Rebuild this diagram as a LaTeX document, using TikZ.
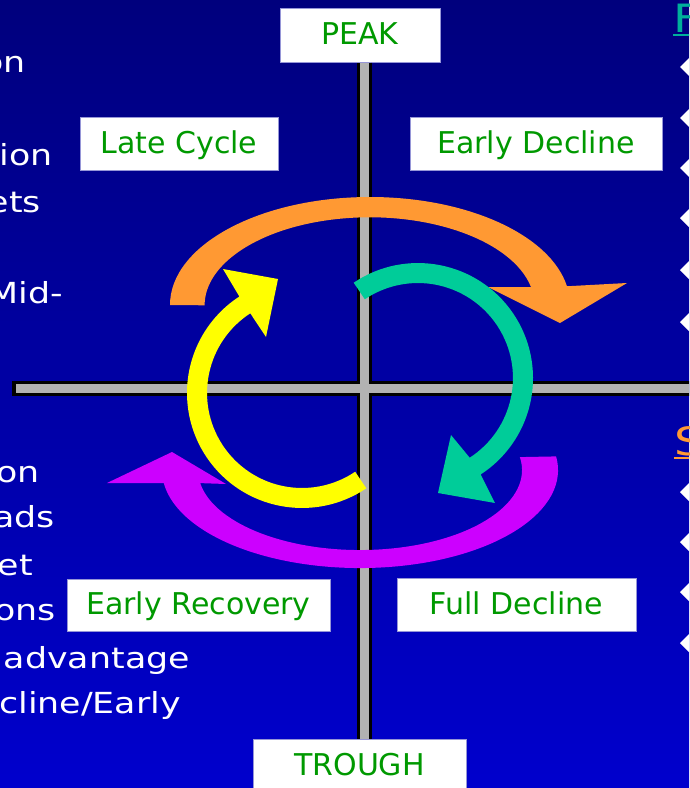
\documentclass[tikz,border=0pt]{standalone}
\usepackage{fontspec}
\setmainfont{DejaVu Sans}
\newfontfamily\sidefont[FakeStretch=1.2]{DejaVu Sans}

\definecolor{navytop}{RGB}{0,0,125}
\definecolor{navybot}{RGB}{0,0,205}
\definecolor{axisgray}{RGB}{178,178,178}
\definecolor{phasegreen}{RGB}{0,153,0}
\definecolor{boxedge}{RGB}{150,150,215}
\definecolor{arrorange}{RGB}{255,153,51}
\definecolor{arrteal}{RGB}{0,204,153}
\definecolor{arryellow}{RGB}{255,255,0}
\definecolor{arrmagenta}{RGB}{204,0,255}
\definecolor{headteal}{RGB}{0,175,155}

\tikzset{
  phase/.style={draw=boxedge, line width=1pt, fill=white, text=phasegreen,
    font=\fontsize{30}{36}\selectfont, inner sep=0pt, text height=22pt, text depth=3pt},
  sidetext/.style={text=white, font=\sidefont\fontsize{29}{35}\selectfont,
    anchor=base east, inner sep=0pt},
  headtext/.style={font=\sidefont\fontsize{39}{45}\selectfont, anchor=base west, inner sep=0pt},
  axisedge/.style={line width=15pt, black},
  axisfill/.style={line width=9pt, axisgray},
  bullet/.style={fill=white},
}

\begin{document}
\begin{tikzpicture}[x=1pt,y=-1pt]
    \useasboundingbox (0,0) rectangle (689,788);
    \clip (0,0) rectangle (689,788);
    \shade[top color=navytop, bottom color=navybot] (0,0) rectangle (689,788);

    \node[sidetext] (l1) at (26,72) {on};
    \node[sidetext] (l2) at (53,165) {ion};
    \node[sidetext] (l3) at (41,212) {ets};
    \node[sidetext] (l4) at (63,303) {Mid-};
    \node[sidetext] (l5) at (40,482) {on};
    \node[sidetext] (l6) at (55,527) {ads};
    \node[sidetext] (l7) at (33,575) {et};
    \node[sidetext] (l8) at (56,620) {ons};
    \node[sidetext] (l9) at (190,668) {advantage};
    \node[sidetext] (l10) at (181,713) {cline/Early};

    \node[headtext, text=headteal] (fhead) at (673,32) {F};
    \draw[headteal, line width=2pt] ([yshift=-2.5pt]fhead.base west) -- ([yshift=-2.5pt]fhead.base east);
    \node[headtext, text=arrorange] (shead) at (674,455) {S};
    \draw[arrorange, line width=2pt] ([yshift=-3pt]shead.base west) -- ([yshift=-3pt]shead.base east);

    \fill[bullet] (680,67) -- (690,57) -- (700,67) -- (690,77) -- cycle;
    \fill[bullet] (680,118) -- (690,108) -- (700,118) -- (690,128) -- cycle;
    \fill[bullet] (680,168) -- (690,158) -- (700,168) -- (690,178) -- cycle;
    \fill[bullet] (680,218) -- (690,208) -- (700,218) -- (690,228) -- cycle;
    \fill[bullet] (680,270) -- (690,260) -- (700,270) -- (690,280) -- cycle;
    \fill[bullet] (680,322) -- (690,312) -- (700,322) -- (690,332) -- cycle;
    \fill[bullet] (680,492) -- (690,482) -- (700,492) -- (690,502) -- cycle;
    \fill[bullet] (680,542) -- (690,532) -- (700,542) -- (690,552) -- cycle;
    \fill[bullet] (680,592) -- (690,582) -- (700,592) -- (690,602) -- cycle;
    \fill[bullet] (680,643) -- (690,633) -- (700,643) -- (690,653) -- cycle;

    \node[phase, minimum width=160pt, minimum height=54pt] (peak) at (360,35) {PEAK};
    \node[phase, minimum width=198pt, minimum height=53pt] (late) at (179,143.5) {Late Cycle};
    \node[phase, minimum width=252pt, minimum height=53pt] (earlydec) at (536,143.5) {Early Decline};
    \node[phase, minimum width=263pt, minimum height=52pt] (earlyrec) at (198.5,605) {Early Recovery};
    \node[phase, minimum width=239pt, minimum height=53pt] (fulldec) at (516.5,604.5) {Full Decline};
    \node[phase, minimum width=213pt, minimum height=53pt] (trough) at (359.5,765.5) {TROUGH};

    \coordinate (hleft) at (12,388);
    \coordinate (hright) at (700,388);
    \coordinate (vmid) at (364,388);
    \draw[axisedge] (hleft) -- (hright);
    \draw[axisedge] (peak.south -| vmid) -- (trough.north -| vmid);
    \draw[axisfill] ([xshift=4pt]hleft) -- (hright);
    \draw[axisfill] (peak.south -| vmid) -- (trough.north -| vmid);

    \fill[arrorange] (170,305) arc[start angle=180, end angle=350, x radius=200, y radius=108]
        -- (627,283) -- (560,323) -- (488,287) -- (531,287)
        arc[start angle=348, end angle=180, x radius=165, y radius=88] -- cycle;
    \fill[arrteal] (353.7,282.7) arc[start angle=236, end angle=417, radius=115]
        -- (495,503) -- (438,493) -- (451,435) -- (469.7,457.7)
        arc[start angle=417, end angle=236, radius=95] -- cycle;
    \fill[arrmagenta] (556.1,456.4) arc[start angle=-8, end angle=172.4, x radius=198, y radius=98]
        -- (107,483) -- (172,452) -- (226,484) -- (200.2,483.1)
        arc[start angle=170.6, end angle=-9.3, x radius=162, y radius=80] -- cycle;
    \fill[arryellow] (366.3,488.3) arc[start angle=56, end angle=237, radius=115]
        -- (223,269) -- (278,279) -- (266,337) -- (250.3,313.3)
        arc[start angle=237, end angle=56, radius=95] -- cycle;
\end{tikzpicture}
\end{document}
